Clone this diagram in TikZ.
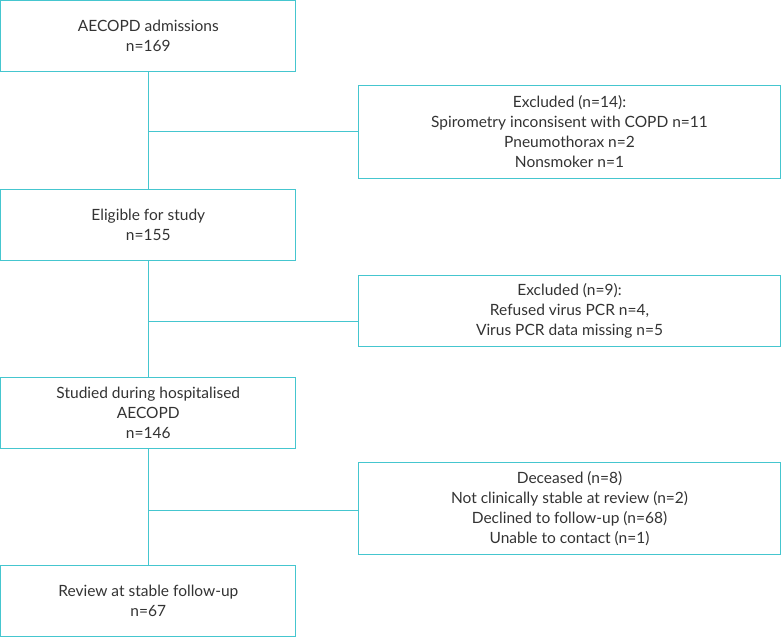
\documentclass[tikz,border=0pt]{standalone}
\usepackage{fontspec}
\setmainfont{Lato}
\usepackage{tikz}

\definecolor{flowteal}{HTML}{45C6CF}
\definecolor{flowtext}{HTML}{333333}

\begin{document}
\begin{tikzpicture}[x=1pt,y=-1pt]
      \tikzset { stage/.style = { draw=flowteal, line width=1pt, minimum width=295pt, align=center, text=flowtext, font=\fontsize{15.5}{20}\selectfont, inner sep=0pt } }
      \tikzset { excl/.style = { draw=flowteal, line width=1pt, minimum width=422pt, align=center, text=flowtext, font=\fontsize{15.5}{20}\selectfont, inner sep=0pt } }
      \tikzset { link/.style = { draw=flowteal, line width=1pt } }

      \useasboundingbox (0,0) rectangle (782,638);

      \node[stage, minimum height=71pt] (adm) at (148.3,36.2) {AECOPD admissions\\n=169};
      \node[excl, minimum height=92.3pt] (ex1) at (569.5,131.9) {Excluded (n=14):\\Spirometry inconsisent with COPD n=11\\Pneumothorax n=2\\Nonsmoker n=1};
      \node[stage, minimum height=71pt] (elig) at (148.3,225.2) {Eligible for study\\n=155};
      \node[excl, minimum height=71.4pt] (ex2) at (569.5,311) {Excluded (n=9):\\Refused virus PCR n=4,\\Virus PCR data missing n=5};
      \node[stage, minimum height=71pt] (stud) at (148.3,412.5) {Studied during hospitalised\\AECOPD\\n=146};
      \node[excl, minimum height=92.3pt] (ex3) at (569.5,508.8) {Deceased (n=8)\\Not clinically stable at review (n=2)\\Declined to follow-up (n=68)\\Unable to contact (n=1)};
      \node[stage, minimum height=70.7pt] (rev) at (148.3,601.3) {Review at stable follow-up\\n=67};

      \coordinate (j1) at (148.3,131.7);
      \coordinate (j2) at (148.3,321);
      \coordinate (j3) at (148.3,510);

      \draw[link] (adm) to (elig);
      \draw[link] (elig) to (stud);
      \draw[link] (stud) to (rev);
      \draw[link] (j1) to (j1 -| ex1.west);
      \draw[link] (j2) to (j2 -| ex2.west);
      \draw[link] (j3) to (j3 -| ex3.west);

    \end{tikzpicture}
\end{document}
